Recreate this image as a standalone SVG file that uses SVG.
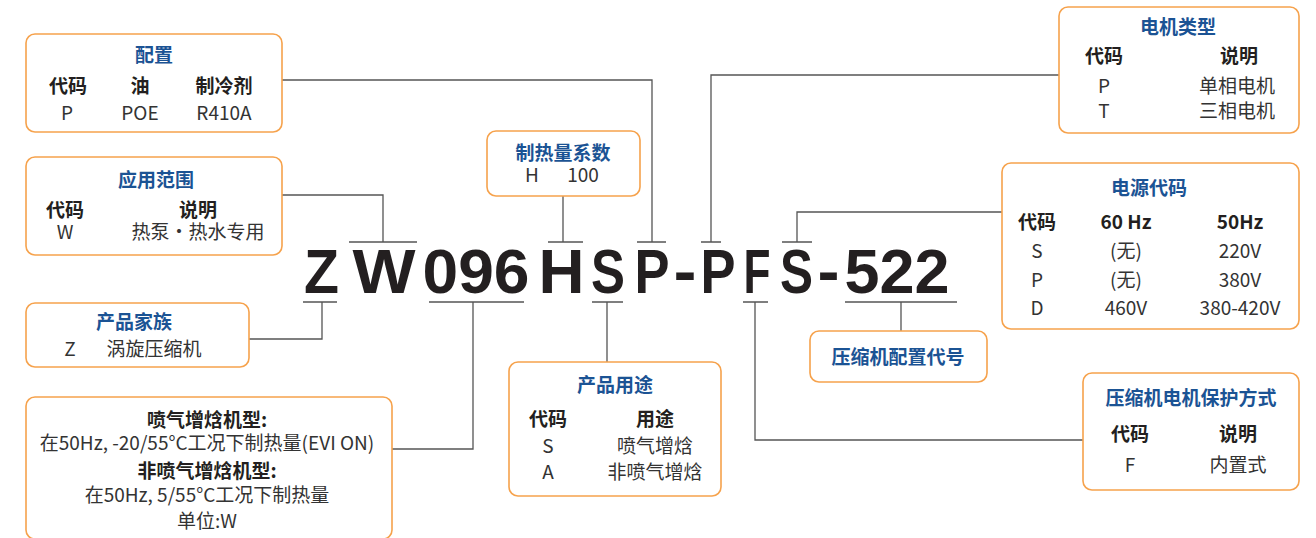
<svg xmlns="http://www.w3.org/2000/svg" width="1316" height="538" viewBox="0 0 1316 538">
<style>
.box{fill:#fff;stroke:#f6a24c;stroke-width:1.6}
.t{font-family:"Noto Sans CJK SC","Liberation Sans",sans-serif;font-size:19px;text-anchor:middle}
.ti{font-weight:700;fill:#1b5394}
.h{font-weight:700;fill:#231f20}
.b{fill:#333}
.code{font-family:"Liberation Sans","Noto Sans CJK SC",sans-serif;font-weight:700;font-size:63px;fill:#231f20;text-anchor:middle}
.c{fill:none;stroke:#555;stroke-width:1.3}
</style>
<rect width="1316" height="538" fill="#fff"/>
<g id="connectors" class="c">
<path d="M282 80H652V242M637 242H666"/>
<path d="M282 195H383V242M349 242H417"/>
<path d="M563 196V242M548 242H583"/>
<path d="M1059 75H711V242M701 242H721"/>
<path d="M1002 212H797V242M782 242H812"/>
<path d="M249 339H322V302M303 302H337"/>
<path d="M392 449H473V302M429 302H524"/>
<path d="M607 362V302M592 302H623"/>
<path d="M1083 440H755V302M743 302H768"/>
<path d="M901 331V302M845 302H957"/>
</g>
<g id="code">
<text class="code" x="321.5" y="293" textLength="35" lengthAdjust="spacingAndGlyphs">Z</text>
<text class="code" x="384" y="293" textLength="63" lengthAdjust="spacingAndGlyphs">W</text>
<text class="code" x="476" y="293" textLength="107" lengthAdjust="spacingAndGlyphs">096</text>
<text class="code" x="561.5" y="293" textLength="46" lengthAdjust="spacingAndGlyphs">H</text>
<text class="code" x="608" y="293" textLength="34" lengthAdjust="spacingAndGlyphs">S</text>
<text class="code" x="652" y="293" textLength="35" lengthAdjust="spacingAndGlyphs">P</text>
<text class="code" x="685" y="293" textLength="23" lengthAdjust="spacingAndGlyphs">-</text>
<text class="code" x="718" y="293" textLength="35" lengthAdjust="spacingAndGlyphs">P</text>
<text class="code" x="757" y="293" textLength="27" lengthAdjust="spacingAndGlyphs">F</text>
<text class="code" x="796.5" y="293" textLength="33" lengthAdjust="spacingAndGlyphs">S</text>
<text class="code" x="828.5" y="293" textLength="22" lengthAdjust="spacingAndGlyphs">-</text>
<text class="code" x="897" y="293" textLength="105" lengthAdjust="spacingAndGlyphs">522</text>
</g>
<g id="peizhi">
<rect class="box" x="26" y="34" width="256" height="98" rx="9"/>
<text class="t ti" x="154" y="62">配置</text>
<text class="t h" x="68" y="93">代码</text>
<text class="t h" x="140" y="93">油</text>
<text class="t h" x="224" y="93">制冷剂</text>
<text class="t b" x="67" y="120">P</text>
<text class="t b" x="140" y="120">POE</text>
<text class="t b" x="224" y="120">R410A</text>
</g>
<g id="yingyong">
<rect class="box" x="26" y="157" width="256" height="98" rx="9"/>
<text class="t ti" x="156" y="187">应用范围</text>
<text class="t h" x="65" y="217">代码</text>
<text class="t h" x="198" y="217">说明</text>
<text class="t b" x="65" y="239">W</text>
<text class="t b" x="198" y="239">热泵·热水专用</text>
</g>
<g id="jiazu">
<rect class="box" x="26" y="303" width="223" height="64" rx="9"/>
<text class="t ti" x="134" y="329">产品家族</text>
<text class="t b" x="70" y="356">Z</text>
<text class="t b" x="154" y="356">涡旋压缩机</text>
</g>
<g id="zhireliang-desc">
<rect class="box" x="26" y="397" width="366" height="142" rx="9"/>
<text class="t h" x="207" y="427">喷气增焓机型:</text>
<text class="t b" x="207" y="450">在50Hz, -20/55°C工况下制热量(EVI ON)</text>
<text class="t h" x="207" y="478">非喷气增焓机型:</text>
<text class="t b" x="207" y="502">在50Hz, 5/55°C工况下制热量</text>
<text class="t b" x="207" y="528">单位:W</text>
</g>
<g id="xishu">
<rect class="box" x="487" y="131" width="153" height="65" rx="9"/>
<text class="t ti" x="563" y="160">制热量系数</text>
<text class="t b" x="532" y="182">H</text>
<text class="t b" x="583" y="182">100</text>
</g>
<g id="yongtu">
<rect class="box" x="509" y="362" width="212" height="134" rx="9"/>
<text class="t ti" x="615" y="392">产品用途</text>
<text class="t h" x="548" y="426">代码</text>
<text class="t h" x="655" y="426">用途</text>
<text class="t b" x="548" y="453">S</text>
<text class="t b" x="655" y="453">喷气增焓</text>
<text class="t b" x="548" y="479">A</text>
<text class="t b" x="655" y="479">非喷气增焓</text>
</g>
<g id="peizhidaihao">
<rect class="box" x="810" y="331" width="177" height="51" rx="9"/>
<text class="t ti" x="898" y="364">压缩机配置代号</text>
</g>
<g id="baohu">
<rect class="box" x="1083" y="373" width="216" height="117" rx="9"/>
<text class="t ti" x="1191" y="405">压缩机电机保护方式</text>
<text class="t h" x="1130" y="441">代码</text>
<text class="t h" x="1238" y="441">说明</text>
<text class="t b" x="1130" y="472">F</text>
<text class="t b" x="1238" y="472">内置式</text>
</g>
<g id="dianji">
<rect class="box" x="1059" y="7" width="240" height="126" rx="9"/>
<text class="t ti" x="1178" y="34">电机类型</text>
<text class="t h" x="1104" y="63">代码</text>
<text class="t h" x="1239" y="63">说明</text>
<text class="t b" x="1104" y="93">P</text>
<text class="t b" x="1237" y="93">单相电机</text>
<text class="t b" x="1104" y="118">T</text>
<text class="t b" x="1237" y="118">三相电机</text>
</g>
<g id="dianyuan">
<rect class="box" x="1002" y="163" width="297" height="166" rx="9"/>
<text class="t ti" x="1149" y="195">电源代码</text>
<text class="t h" x="1037" y="229">代码</text>
<text class="t h" x="1126" y="229">60 Hz</text>
<text class="t h" x="1240" y="229">50Hz</text>
<text class="t b" x="1037" y="258">S</text>
<text class="t b" x="1126" y="258">(无)</text>
<text class="t b" x="1240" y="258">220V</text>
<text class="t b" x="1037" y="287">P</text>
<text class="t b" x="1126" y="287">(无)</text>
<text class="t b" x="1240" y="287">380V</text>
<text class="t b" x="1037" y="315">D</text>
<text class="t b" x="1126" y="315">460V</text>
<text class="t b" x="1240" y="315">380-420V</text>
</g>
</svg>
